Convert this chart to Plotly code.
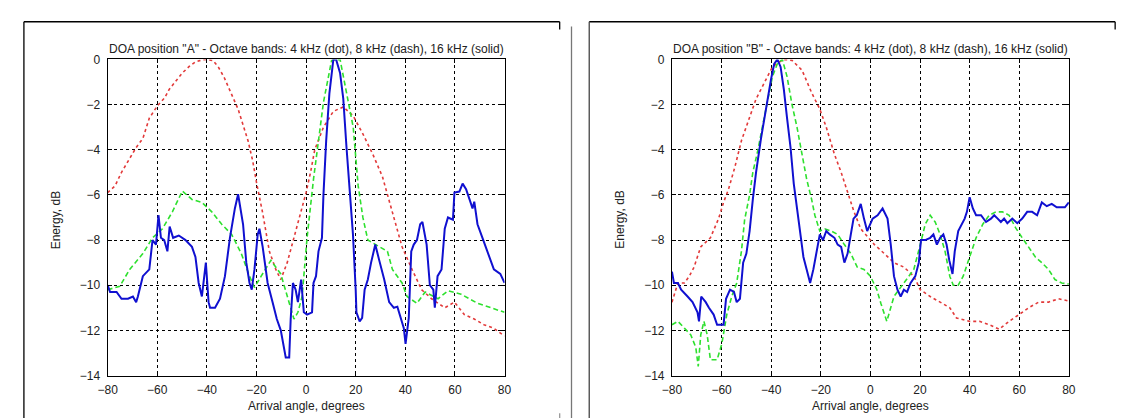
import plotly.graph_objects as go

# ---------------- data: panel A ----------------
a_red_x = [-80, -77, -74.4, -71.8, -68.5, -65.8, -63.2, -59.9, -57, -55.2, -52.5, -49.9, -47, -44.6, -42,
           -40, -37.5, -35.4, -33, -31.4, -29.4, -27.4, -25.4, -23.4, -21.5, -19.9, -17.5, -14.8,
           -12.2, -10.2, -7.6, -4.9, -2.3, 0, 1.8, 3.5, 7, 11, 15, 19, 22.9, 26.9, 30.8, 34.8,
           38.7, 42.7, 46.6, 50.6, 55.9, 59.8, 63.8, 67.8, 71.7, 75.6, 80]
a_red_y = [-5.9, -5.6, -5.0, -4.5, -3.9, -3.5, -2.6, -2.05, -1.7, -1.33, -0.95, -0.6, -0.3, -0.11, -0.02,
           0, -0.05, -0.33, -0.8, -1.2, -1.7, -2.2, -2.9, -3.6, -4.5, -5.5, -6.8, -8.5,
           -9.3, -9.75, -9.0, -7.9, -6.8, -5.9, -5.0, -4.0, -3.0, -2.3, -2.1, -2.5, -3.3, -4.2, -5.2, -6.8,
           -8.3, -9.3, -10.2, -10.6, -11.0, -10.75, -11.3, -11.5, -11.75, -11.9, -12.25]

a_grn_x = [-80, -75.1, -71.1, -65.8, -61.9, -57.9, -53.9, -49.9, -46, -42, -38, -34, -30, -26.1,
           -22.8, -20.8, -18.1, -14.2, -10.2, -7.6, -4.9, -3.3, -1.6, 0.4, 3, 7, 10.3, 13.7,
           16.3, 19, 21, 22.9, 24.9, 28.2, 32.8, 34.8, 38.7, 40.7, 44.7, 48, 53.2, 57.2, 62.5,
           69.1, 74.4, 80]
a_grn_y = [-10.2, -10.05, -9.3, -8.6, -7.9, -7.5, -6.75, -5.83, -6.2, -6.33, -6.75, -7.3, -7.75, -8.6,
           -9.6, -10.1, -9.6, -8.9, -9.5, -10.5, -11.5, -11.2, -10.5, -7.9, -5.3, -1.9, -0.04, 0,
           -1.5, -3.0, -5.6, -7.0, -8.0, -8.2, -8.5, -9.3, -9.9, -10.5, -10.8, -10.3, -10.6, -10.25, -10.4,
           -10.8, -11.0, -11.2]

a_blu_x = [-80, -79, -76.4, -74.4, -71.8, -69.8, -68.5, -67.8, -65.8, -63.2, -61.9, -60.5, -59.5,
           -58.5, -57.2, -55.9, -55, -53.6, -51.3, -48.6, -46, -44.6, -43.3, -42, -40.4, -39.3,
           -38.7, -36.7, -34.7, -32.7, -30.7, -28.7, -27.4, -25.4, -24.1, -22.8, -21.9, -20.8,
           -19.5, -18.8, -17.5, -15.5, -13.5, -11.8, -10.2, -8.9, -8.2, -6.8, -6.2, -5.3, -4.2,
           -3.3, -2.5, -2, -0.9, 0.4, 2.4, 3, 4, 5, 6.4, 7, 8.1, 9.4, 11, 12.1, 13.7, 15, 16.3,
           17.6, 18.9, 20, 20.3, 21.6, 22.6, 23.6, 24.9, 26.2, 27.9, 29.5, 31.5, 33.5, 35.4,
           36.8, 38.1, 39.4, 40.1, 41.4, 42.4, 43.4, 44.7, 46, 46.9, 48.6, 49.9, 51.3, 51.9, 53,
           54.6, 55.9, 57.2, 59.2, 59.8, 61.8, 63.1, 64.5, 66.2, 67.1, 67.8, 69.1, 71.1, 72.4,
           73.7, 75.7, 78.3, 80]
a_blu_y = [-10.0, -10.3, -10.3, -10.6, -10.6, -10.5, -10.75, -10.5, -9.6, -9.3, -8.0, -8.2, -6.9,
           -7.9, -8.0, -8.5, -7.4, -7.9, -7.8, -8.0, -8.3, -8.75, -9.9, -10.5, -9.0, -10.75,
           -11.0, -11.0, -10.6, -9.6, -7.9, -6.6, -5.97, -7.3, -9.0, -9.9, -10.2, -9.3,
           -7.75, -7.5, -8.3, -9.9, -10.75, -11.5, -12.0, -12.75, -13.2, -13.2, -11.5, -9.9, -10.2,
           -10.75, -10.2, -9.75, -11.2, -11.3, -11.2, -9.9, -9.6, -8.5, -7.9, -6.0, -3.6, -1.5, 0, 0, -0.6, -1.75, -3.9,
           -5.75, -7.75, -10.2, -11.2, -11.6, -11.45, -10.2, -9.75, -9.0, -8.2, -8.9, -9.75, -10.75, -11.0,
           -10.95, -11.45, -11.9, -12.6, -11.45, -8.5, -8.2, -8.0, -7.3, -7.2, -8.2, -10.0, -10.2, -11.0, -9.6,
           -9.3, -7.5, -7.0, -7.1, -5.9, -5.85, -5.5, -5.75, -6.3, -6.6, -6.3, -7.3, -7.9, -8.3,
           -8.75, -9.3, -9.5, -9.9]

# ---------------- data: panel B ----------------
b_red_x = [-80, -77.6, -75, -73, -71.1, -68.4, -64.5, -61.2, -59.2, -57.2, -54.6, -52, -49.3, -46.1,
           -42.8, -39.5, -36.8, -34.2, -31.6, -27.6, -23.7, -20.4, -17.8, -14.5, -11.8, -9.2, -6.6,
           -3.9, 0, 1.6, 5.6, 9.5, 13.5, 17.5, 20.1, 24.1, 28.1, 32, 34.7, 40, 44, 47.9, 51.9,
           55.9, 59.9, 63.8, 67.8, 71.8, 75.8, 80]
b_red_y = [-10.75, -9.9, -9.9, -9.6, -9.2, -8.3, -7.9, -7.05, -6.33, -5.75, -4.75, -3.6, -2.75, -1.75,
           -1.04, -0.33, -0.11, 0, -0.04, -0.47, -1.47, -2.2, -3.0, -4.2, -5.0, -5.9, -6.75,
           -7.5, -8.0, -8.2, -8.6, -9.0, -9.2, -9.6, -10.2, -10.5, -10.75, -11.0, -11.45, -11.6, -11.6, -11.75, -11.95,
           -11.6, -11.3, -11.0, -10.75, -10.75, -10.6, -10.7]

b_grn_x = [-80, -77.6, -75, -72.4, -70.4, -69.4, -68.4, -67.1, -65.8, -64.5, -61.8, -59.9, -57.9,
           -55.9, -53.9, -52, -50.7, -48.7, -47.4, -45.4, -43.4, -41.4, -39.5, -37.5, -35.5, -33.6,
           -31.6, -29.6, -27.6, -25.7, -23.7, -22.4, -20.4, -18.4, -15.8, -13.2, -10.5, -7.9, -5.3,
           -2.6, 0, 2.6, 4.2, 6.6, 9.5, 13.5, 17.5, 20.1, 22.1, 24.1, 26.1, 28.1, 30.1, 32, 33.4,
           35.4, 37.4, 40, 42.6, 45.3, 47.9, 50.6, 53.2, 55.9, 58.5, 61.2, 63.8, 66.5, 69.1, 71.8,
           74.4, 77.1, 80]
b_grn_y = [-11.75, -11.6, -11.9, -12.2, -12.75, -13.6, -12.2, -11.6, -12.2, -13.3, -13.3, -12.6, -11.3,
           -10.5, -9.9, -8.5, -7.1, -6.0, -5.0, -4.04, -2.9, -1.75, -0.76, -0.19, 0, -0.76,
           -2.0, -3.0, -4.2, -5.3, -6.2, -6.9, -7.6, -7.5, -7.6, -7.75, -8.2, -8.6, -9.2,
           -9.3, -9.6, -10.2, -10.8, -11.6, -10.5, -9.9, -9.3, -8.2, -7.3, -6.9, -7.2, -7.75, -8.5, -9.6, -10.0,
           -10.0, -9.6, -8.75, -7.9, -7.3, -6.9, -6.75, -6.75, -6.9, -7.45, -7.9, -8.3, -8.75, -9.0, -9.3,
           -9.75, -9.9, -9.95]

b_blu_x = [-80, -79.2, -77.6, -76.3, -73.7, -71.7, -69.7, -69.1, -68.2, -66.4, -65.1, -63.2, -61.8,
           -59.2, -58.2, -56.6, -55, -53.9, -52.6, -51.3, -50, -48.7, -47.4, -46.1, -44.1, -42.8,
           -41.4, -40.1, -38.8, -37.5, -36.2, -34.9, -33.6, -32.2, -30.9, -29.6, -28.3, -27, -25.7,
           -24.3, -23, -21.7, -20.4, -19.1, -17.8, -16.4, -14.5, -13.2, -11.8, -10.5, -9.2, -7.9,
           -6.8, -5.5, -3.9, -2.6, -1.3, 0.9, 2.9, 4.9, 6.9, 8.2, 9.5, 10.9, 12.2, 13.5, 14.8,
           16.2, 18.1, 19.5, 20.4, 22.1, 24.1, 25.4, 26.8, 28.1, 29.4, 30.7, 31.8, 33.1, 34,
           35.4, 36.7, 38, 38.9, 40, 41.3, 42.6, 44.6, 46.6, 48.6, 49.9, 51.3, 52.6, 53.9, 55.2,
           57.2, 59.2, 61.2, 63.2, 65.2, 67.2, 69.1, 71.1, 73.1, 75.1, 77.1, 78.4, 80]
b_blu_y = [-9.4, -9.9, -9.9, -10.2, -10.5, -10.75, -11.2, -11.6, -10.5, -10.75, -11.0, -11.3, -11.75,
           -11.75, -10.6, -10.2, -10.3, -10.75, -10.6, -9.0, -8.6, -7.6, -6.2, -5.0, -3.5, -2.6,
           -1.6, -0.9, -0.2, 0, -0.33, -1.33, -2.6, -3.9, -5.5, -6.6, -7.9, -8.75, -9.3,
           -9.9, -9.3, -8.6, -7.75, -8.0, -7.6, -7.75, -7.9, -8.2, -8.3, -9.0, -8.6, -7.75,
           -7.05, -6.9, -6.4, -7.05, -7.6, -7.05, -6.9, -6.6, -7.05, -8.2, -9.6, -10.2, -10.5, -10.2, -10.3,
           -9.9, -9.6, -9.0, -8.0, -8.0, -7.9, -7.75, -8.2, -7.9, -7.75, -8.2, -8.9, -9.5, -8.5,
           -7.6, -7.3, -7.05, -6.75, -6.1, -6.6, -6.9, -6.9, -7.2, -7.05, -6.9, -7.05, -7.2, -7.05, -7.25,
           -7.05, -7.25, -7.05, -6.75, -6.75, -6.9, -6.33, -6.5, -6.4, -6.55, -6.55, -6.55, -6.33]

x_ticks = [-80, -60, -40, -20, 0, 20, 40, 60, 80]
y_ticks = [-14, -12, -10, -8, -6, -4, -2, 0]
titles = ['DOA position "A" - Octave bands: 4 kHz (dot), 8 kHz (dash), 16 kHz (solid)',
          'DOA position "B" - Octave bands: 4 kHz (dot), 8 kHz (dash), 16 kHz (solid)']
x_title = "Arrival angle, degrees"
y_title = "Energy, dB"

W, H = 1124, 418
FONT = "Liberation Sans, Arial, sans-serif"
RED, GRN, BLU = "#e23a3a", "#2ee02e", "#1010d0"


def px(x):
    return x / W


def py(y):
    return 1 - y / H


fig = go.Figure()
panels = [
    (a_red_x, a_red_y, a_grn_x, a_grn_y, a_blu_x, a_blu_y, "x", "y"),
    (b_red_x, b_red_y, b_grn_x, b_grn_y, b_blu_x, b_blu_y, "x2", "y2"),
]
for rx, ry, gx, gy, bx, by, xa, ya in panels:
    fig.add_trace(go.Scatter(x=rx, y=ry, mode="lines", xaxis=xa, yaxis=ya,
                             line=dict(color=RED, width=1.6, dash="dot"), showlegend=False))
    fig.add_trace(go.Scatter(x=gx, y=gy, mode="lines", xaxis=xa, yaxis=ya,
                             line=dict(color=GRN, width=1.6, dash="5px,3px"), showlegend=False))
    fig.add_trace(go.Scatter(x=bx, y=by, mode="lines", xaxis=xa, yaxis=ya,
                             line=dict(color=BLU, width=2), showlegend=False))

plot_l = [91, 664]
plot_r = [494, 1067]
plot_t, plot_b = 46, 373

axis_common = dict(showline=True, mirror="ticks", linecolor="black", linewidth=1,
                   ticks="inside", ticklen=4, tickcolor="black",
                   showgrid=True, gridcolor="black", gridwidth=1, griddash="dot",
                   zeroline=False, tickfont=dict(family=FONT, size=12, color="#222"))

layout = dict(width=W, height=H, margin=dict(l=0, r=0, t=0, b=0),
              paper_bgcolor="white", plot_bgcolor="white", showlegend=False)
for i, (xk, yk, ax) in enumerate([("xaxis", "yaxis", "y"), ("xaxis2", "yaxis2", "y2")]):
    layout[xk] = dict(domain=[px(plot_l[i]), px(plot_r[i])], range=[-80, 80],
                      tickvals=x_ticks, anchor=ax, ticklabelstandoff=3, **axis_common)
    layout[yk] = dict(domain=[py(plot_b), py(plot_t)], range=[-14, 0],
                      tickvals=y_ticks, anchor="x" if i == 0 else "x2",
                      ticklabelstandoff=4, **axis_common)
fig.update_layout(**layout)

annotations = []
for i in range(2):
    cx = (plot_l[i] + plot_r[i]) / 2
    annotations.append(dict(text=titles[i], x=px(cx), y=py(35), xref="paper", yref="paper",
                            xanchor="center", yanchor="middle", showarrow=False,
                            font=dict(family=FONT, size=12, color="#222")))
    annotations.append(dict(text=x_title, x=px(cx), y=py(405), xref="paper", yref="paper",
                            xanchor="center", yanchor="middle", showarrow=False,
                            font=dict(family=FONT, size=12, color="#222")))
    annotations.append(dict(text=y_title, x=px(plot_l[i] - 53), y=py(212), xref="paper", yref="paper",
                            xanchor="center", yanchor="middle", showarrow=False, textangle=-90,
                            font=dict(family=FONT, size=12, color="#222")))
fig.update_layout(annotations=annotations)

# page frames around the two panels
frame = [
    (6, 7, 550, 7, "black"), (6, 7, 6, 418, "black"), (550, 7, 550, 15, "black"),
    (550, 412, 550, 418, "#999"),
    (562, 12, 562, 418, "#777"),
    (580, 7, 1114, 7, "black"), (580, 7, 580, 418, "#444"), (1114, 7, 1114, 15, "black"),
]
shapes = []
for x0, y0, x1, y1, c in frame:
    shapes.append(dict(type="line", xref="paper", yref="paper", x0=px(x0), y0=py(y0),
                       x1=px(x1), y1=py(y1), line=dict(color=c, width=1.3)))
fig.update_layout(shapes=shapes)

fig.write_html("out.html")
